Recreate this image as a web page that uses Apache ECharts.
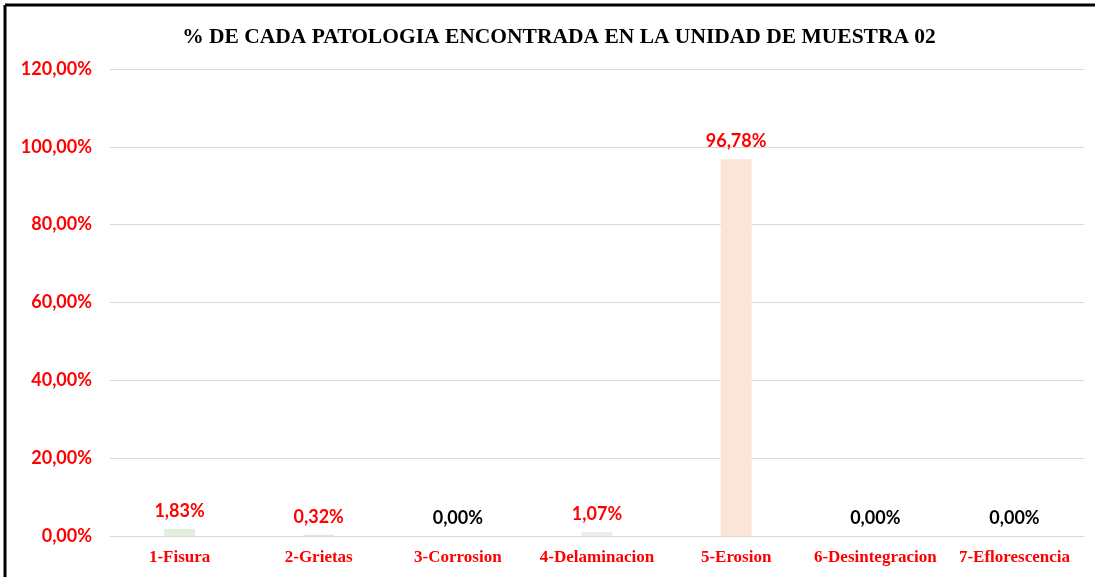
<!DOCTYPE html>
<html>
<head>
<meta charset="utf-8">
<script src="https://cdn.jsdelivr.net/npm/echarts@6/dist/echarts.min.js"></script>
<style>
  html, body { margin: 0; padding: 0; background: #fff; }
  #chart { width: 1095px; height: 577px; }
</style>
</head>
<body>
<div id="chart"></div>
<script>
const categories = ['1-Fisura', '2-Grietas', '3-Corrosion', '4-Delaminacion', '5-Erosion', '6-Desintegracion', '7-Eflorescencia']
const values = [1.83, 0.32, 0, 1.07, 96.78, 0, 0]
const barColors = ['#E2EFDA', '#DDE2F5', '#FBE5D6', '#EDEDED', '#FBE5D6', '#FFF2CC', '#DEEBF7']

const fmt = (v) => v.toFixed(2).replace('.', ',') + '%'

const chart = echarts.init(document.getElementById('chart'))
chart.setOption({
  animation: false,
  title: {
    text: '% DE CADA PATOLOGIA ENCONTRADA EN LA UNIDAD DE MUESTRA 02',
    left: 554,
    textAlign: 'center',
    top: 21,
    textStyle: { fontFamily: 'Liberation Serif', fontWeight: 'bold', fontSize: 21.5, color: '#000' }
  },
  graphic: [
    { type: 'line', shape: { x1: 5, y1: 5, x2: 1095, y2: 5 }, style: { stroke: '#000', lineWidth: 3 } },
    { type: 'line', shape: { x1: 5, y1: 5, x2: 5, y2: 577 }, style: { stroke: '#000', lineWidth: 3 } }
  ],
  grid: { left: 110, right: 11, top: 69, bottom: 41 },
  xAxis: {
    type: 'category',
    data: categories,
    axisLine: { lineStyle: { color: '#D9D9D9' } },
    axisTick: { show: false },
    axisLabel: {
      color: '#FF0000', fontFamily: 'Liberation Serif', fontWeight: 'bold', fontSize: 17, margin: 13, interval: 0
    }
  },
  yAxis: {
    type: 'value',
    min: 0,
    max: 120,
    interval: 20,
    axisLine: { show: false },
    axisTick: { show: false },
    splitLine: { lineStyle: { color: '#D9D9D9' } },
    axisLabel: {
      formatter: fmt,
      color: '#FF0000', fontFamily: 'Lato', fontWeight: 'bold', fontSize: 18, margin: 18
    }
  },
  series: [{
    type: 'bar',
    barWidth: 31,
    data: values.map((v, i) => ({
      value: v,
      itemStyle: { color: barColors[i] },
      label: { color: v > 0 ? '#FF0000' : '#000' }
    })),
    label: {
      show: true,
      position: 'top',
      distance: 9,
      formatter: (p) => fmt(p.value),
      fontFamily: 'Lato', fontWeight: 'bold', fontSize: 18
    }
  }]
})
</script>
</body>
</html>
